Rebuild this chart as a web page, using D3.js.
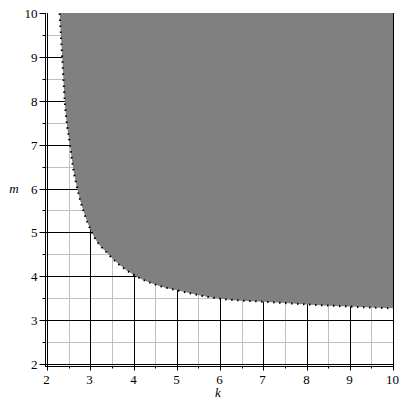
<!DOCTYPE html>
<html>
<head>
<meta charset="utf-8">
<script src="https://cdn.jsdelivr.net/npm/d3@7"></script>
<style>
  body { margin: 0; background: #fff; }
  text { font-family: "Liberation Serif", "Times New Roman", Times, serif; font-size: 13px; }
</style>
</head>
<body>
<div id="chart"></div>
<script>
// boundary of the shaded region
const kVals = [2.28, 2.34, 2.40, 2.52, 2.59, 2.69, 2.83, 3.03, 3.42, 4.07, 4.5, 5, 5.5, 6, 7, 8, 9, 10];
const mVals = [10, 9, 8, 7, 6.5, 6, 5.5, 5, 4.5, 4, 3.82, 3.69, 3.58, 3.5, 3.43, 3.37, 3.32, 3.28];
const tickVals = [2, 3, 4, 5, 6, 7, 8, 9, 10];
const minorVals = [2.5, 3.5, 4.5, 5.5, 6.5, 7.5, 8.5, 9.5];

const W = 406, H = 406;

const x = d3.scaleLinear().domain([2, 10]).range([47.5, 393.5]),
    y = d3.scaleLinear().domain([2, 10]).range([364.5, 13.5]);

const px = (v) => Math.round(x(v) - 0.5) + 0.5,
    py = (v) => Math.round(y(v) - 0.5) + 0.5;

const svg = d3.select("#chart")
  .append("svg")
  .attr("width", W)
  .attr("height", H);

const boundary = kVals.map((k, i) => ({ k: k, m: mVals[i] }));

// grid
svg.append("g")
  .selectAll("line")
  .data(minorVals)
  .join("line")
  .attr("x1", (d) => px(d)).attr("x2", (d) => px(d))
  .attr("y1", 13).attr("y2", 366)
  .attr("stroke", "#c0c0c0");

svg.append("g")
  .selectAll("line")
  .data(minorVals)
  .join("line")
  .attr("y1", (d) => py(d)).attr("y2", (d) => py(d))
  .attr("x1", 46).attr("x2", 394)
  .attr("stroke", "#c0c0c0");

svg.append("g")
  .selectAll("line")
  .data(tickVals)
  .join("line")
  .attr("x1", (d) => px(d)).attr("x2", (d) => px(d))
  .attr("y1", 13).attr("y2", 366)
  .attr("stroke", "#000");

svg.append("g")
  .selectAll("line")
  .data(tickVals.filter((d) => d < 10))
  .join("line")
  .attr("y1", (d) => py(d)).attr("y2", (d) => py(d))
  .attr("x1", 46).attr("x2", 394)
  .attr("stroke", "#000");

// shaded region
const area = d3.area()
  .x((d) => x(d.k))
  .y0(y(10) - 0.5)
  .y1((d) => y(d.m))
  .curve(d3.curveMonotoneX);

svg.append("path")
  .datum(boundary)
  .attr("d", area)
  .attr("fill", "#808080");

const line = d3.line()
  .x((d) => x(d.k))
  .y((d) => y(d.m))
  .curve(d3.curveMonotoneX);

svg.append("path")
  .datum(boundary)
  .attr("d", line)
  .attr("fill", "none")
  .attr("stroke", "#000")
  .attr("stroke-width", 2)
  .attr("stroke-dasharray", "1.5,4.5");

// right edge line on top
svg.append("line")
  .attr("x1", px(10)).attr("x2", px(10))
  .attr("y1", 13).attr("y2", 366)
  .attr("stroke", "#000");

// axes
const yAxis = svg.append("g").attr("transform", "translate(45.5,0)");
yAxis.append("line").attr("y1", 13).attr("y2", 367).attr("stroke", "#000");
yAxis.selectAll(".maj")
  .data(tickVals)
  .join("line")
  .attr("x1", -6).attr("x2", 0)
  .attr("y1", (d) => py(d)).attr("y2", (d) => py(d))
  .attr("stroke", "#000");
yAxis.selectAll(".min")
  .data(minorVals)
  .join("line")
  .attr("x1", -3).attr("x2", 0)
  .attr("y1", (d) => py(d)).attr("y2", (d) => py(d))
  .attr("stroke", "#000");
yAxis.selectAll("text")
  .data(tickVals)
  .join("text")
  .attr("x", -8)
  .attr("y", (d) => py(d) + 4.5)
  .attr("text-anchor", "end")
  .text((d) => d);

const xAxis = svg.append("g").attr("transform", "translate(0,366.5)");
xAxis.append("line").attr("x1", 45).attr("x2", 394).attr("stroke", "#000");
xAxis.selectAll(".maj")
  .data(tickVals)
  .join("line")
  .attr("x1", (d) => px(d)).attr("x2", (d) => px(d))
  .attr("y1", 0).attr("y2", 4)
  .attr("stroke", "#000");
xAxis.selectAll(".min")
  .data(minorVals)
  .join("line")
  .attr("x1", (d) => px(d)).attr("x2", (d) => px(d))
  .attr("y1", 0).attr("y2", 2)
  .attr("stroke", "#000");
xAxis.selectAll("text")
  .data(tickVals)
  .join("text")
  .attr("x", (d) => px(d) - 1)
  .attr("y", 17)
  .attr("text-anchor", "middle")
  .text((d) => d);

// axis titles
svg.append("text")
  .attr("x", 218)
  .attr("y", 397)
  .attr("text-anchor", "middle")
  .style("font-style", "italic")
  .text("k");

svg.append("text")
  .attr("x", 14)
  .attr("y", 193)
  .attr("text-anchor", "middle")
  .style("font-style", "italic")
  .text("m");
</script>
</body>
</html>
